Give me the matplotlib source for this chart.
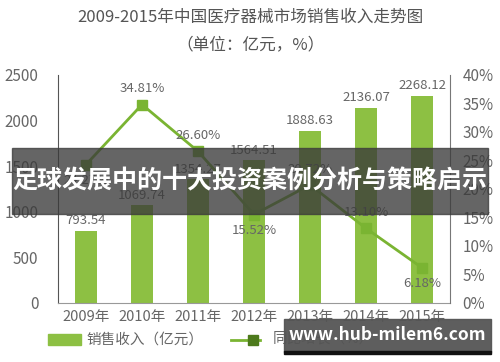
import matplotlib.pyplot as plt
from matplotlib.patches import Rectangle
from matplotlib.lines import Line2D

plt.rcParams['font.family'] = ['Noto Sans CJK SC', 'DejaVu Sans']

# 数据
years = ['2009年', '2010年', '2011年', '2012年', '2013年', '2014年', '2015年']
sales = [793.54, 1069.74, 1354.27, 1564.51, 1888.63, 2136.07, 2268.12]
growth = [24.27, 34.81, 26.60, 15.52, 20.72, 13.10, 6.18]
growth_pos = ['below', 'above', 'above', 'below', 'above', 'above', 'below']

bar_color = '#8dc043'
line_color = '#7ab432'
text_color = '#666666'

fig = plt.figure(figsize=(5, 3.62), dpi=100)
ax = fig.add_axes([0.116, 0.163, 0.784, 0.63])
x = range(len(years))
ax.bar(x, sales, width=0.4, color=bar_color, zorder=2)
ax.set_xlim(-0.5, 6.5)
ax.set_ylim(0, 2500)
ax.set_yticks([0, 500, 1000, 1500, 2000, 2500])
ax.set_xticks(list(x))
ax.set_xticklabels(years)
for i, v in enumerate(sales):
    ax.text(i, v + 40, f'{v:.2f}', ha='center', va='bottom', fontsize=9.5, color=text_color)

ax2 = ax.twinx()
ax2.plot(x, growth, color=line_color, lw=2, marker='s', ms=7, mfc=line_color, mec=line_color, zorder=3)
ax2.set_ylim(0, 40)
ax2.set_yticks(range(0, 41, 5))
ax2.set_yticklabels([f'{t}%' for t in range(0, 41, 5)])
for i, v in enumerate(growth):
    if growth_pos[i] == 'above':
        ax2.text(i, v + 1.6, f'{v:.2f}%', ha='center', va='bottom', fontsize=9.5, color=text_color)
    else:
        ax2.text(i, v - 1.6, f'{v:.2f}%', ha='center', va='top', fontsize=9.5, color=text_color)

for a in (ax, ax2):
    for s in a.spines.values():
        s.set_visible(False)
    a.tick_params(length=0, colors=text_color, labelsize=11)
ax.spines['left'].set_visible(True)
ax.spines['left'].set_color('#555555')
ax.spines['bottom'].set_visible(True)
ax.spines['bottom'].set_color('#999999')
ax2.spines['right'].set_visible(True)
ax2.spines['right'].set_color('#777777')
ax.tick_params(axis='y', pad=14)
ax2.tick_params(axis='y', pad=9)
ax.tick_params(axis='x', pad=5, labelsize=10.5)

fig.text(0.5, 0.952, '2009-2015年中国医疗器械市场销售收入走势图', ha='center', va='center',
         fontsize=12, color='#555555')
fig.text(0.5, 0.875, '（单位：亿元，%）', ha='center', va='center', fontsize=12, color='#555555')

# 图例
fig.patches.append(Rectangle((0.096, 0.048), 0.066, 0.03, transform=fig.transFigure,
                             color=bar_color))
fig.text(0.172, 0.062, '销售收入（亿元）', ha='left', va='center', fontsize=10.5, color=text_color)
fig.lines.append(Line2D([0.462, 0.52], [0.062, 0.062], transform=fig.transFigure,
                        color=line_color, lw=2))
fig.lines.append(Line2D([0.505], [0.062], transform=fig.transFigure, marker='s', ms=7,
                        color='#4d7a1c'))
fig.text(0.545, 0.062, '同比增长（%）', ha='left', va='center', fontsize=10.5, color=text_color)

# 横幅
fig.patches.append(Rectangle((0.024, 0.41), 0.952, 0.18, transform=fig.transFigure,
                             color='#3a3a3a', alpha=0.78, zorder=10))
fig.text(0.5, 0.5, '足球发展中的十大投资案例分析与策略启示', ha='center', va='center',
         fontsize=18, fontweight='bold', color='white', zorder=11)

# 水印
fig.patches.append(Rectangle((0.568, 0.028), 0.414, 0.092, transform=fig.transFigure,
                             color='#555555', alpha=0.95, zorder=10))
fig.patches.append(Rectangle((0.568, 0.022), 0.414, 0.008, transform=fig.transFigure,
                             color='#111111', zorder=10))
fig.text(0.775, 0.075, 'www.hub-milem6.com', ha='center', va='center', fontsize=12.5,
         fontweight='bold', color='white', zorder=11)

fig.savefig('out.png', dpi=100, facecolor='white')
